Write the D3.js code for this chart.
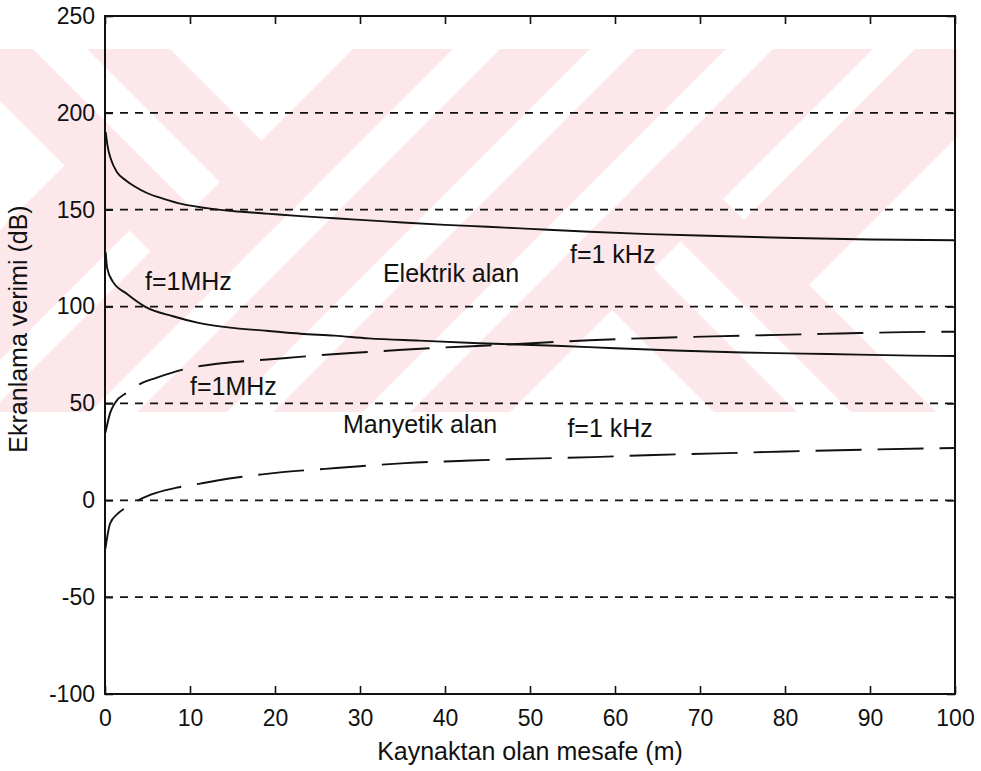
<!DOCTYPE html>
<html>
<head>
<meta charset="utf-8">
<script src="https://cdn.jsdelivr.net/npm/d3@7"></script>
<style>
  body { margin: 0; background: #fff; }
  text { font-family: "Liberation Sans", Arial, sans-serif; fill: #111; }
</style>
</head>
<body>
<svg id="chart" width="981" height="771"></svg>
<script>
// Axis ticks and reference levels
const xTicks = [0, 10, 20, 30, 40, 50, 60, 70, 80, 90, 100];
const yTicks = [-100, -50, 0, 50, 100, 150, 200, 250];
const gridLevels = [200, 150, 100, 50, 0, -50];

// Shielding effectiveness (dB) versus distance from the source (m)
const elektrik1kHz = [[0.08,190],[0.3,183],[0.7,176],[1.4,169.5],[2.5,165],[3.5,162],[5,158.5],[7,155.5],[9,153],[12,150.8],[15,149.3],[19,148],[23,146.7],[27,145.6],[31,144.5],[35,143.4],[40,142.2],[45,141.2],[50,140.1],[57,138.6],[64,137.4],[72,136.4],[81,135.4],[90,134.6],[100,134.2]];
const elektrik1MHz = [[0.08,128],[0.25,120],[0.9,113],[2.6,106.5],[4.7,100],[8,95],[11,91.6],[15,89],[19,87.5],[23,86],[27,85],[31,83.6],[37,82.4],[44,81.1],[53,79.8],[60,78.5],[67,77.3],[75,76.3],[85,75.5],[95,74.7],[100,74.5]];
const manyetik1MHz = [[0.05,35],[0.6,45],[1.2,50.4],[2.6,55.6],[4.1,60],[6.1,63.3],[9.6,67.9],[13.2,70.5],[17,72],[21,73.3],[25,74.8],[29,76],[35,77.7],[39,78.7],[45,79.9],[57,82.6],[64.5,83.8],[71.5,84.6],[79.4,85.4],[86.5,86.1],[94,86.8],[100,87]];
const manyetik1kHz = [[0.05,-25],[0.6,-12],[1.5,-6.9],[2.6,-3.4],[3.9,0],[6,3.8],[8.5,6.6],[11.2,8.6],[13.2,10.2],[18.5,13.4],[20.6,14.4],[25.9,16.2],[30,17.6],[35.3,19.2],[43,20.5],[50,21.5],[57.4,22.3],[64.6,23.4],[72,24.2],[80,25.2],[90,26.2],[100,27]];

// In-plot annotations (data coordinates)
const annotations = [
  { text: "f=1MHz", x: 4.7, y: 108.6 },
  { text: "Elektrik alan", x: 32.7, y: 112.7 },
  { text: "f=1 kHz", x: 54.7, y: 122.5 },
  { text: "f=1MHz", x: 10, y: 54.4 },
  { text: "Manyetik alan", x: 28, y: 34.7 },
  { text: "f=1 kHz", x: 54.4, y: 32.7 }
];

const svg = d3.select("#chart");
const plotLeft = 105, plotRight = 955, plotTop = 16, plotBottom = 694;

const x = d3.scaleLinear().domain([0, 100]).range([plotLeft, plotRight]);
const y = d3.scaleLinear().domain([-100, 250]).range([plotBottom, plotTop]);

// Faint background stamp: diagonal bands in pixel space (c = x - y, s = x + y)
const stampBands = [
  { c: [-101, -16],   s: [-3000, 502] },
  { c: [38, 121],     s: [-3000, 502] },
  { c: [-3000, 3000], s: [402, 502] },
  { c: [-3000, 3000], s: [549, 639] },
  { c: [-3000, 3000], s: [685, 775] },
  { c: [-3000, 3000], s: [822, 922] },
  { c: [302, 385],    s: [822, 3000] },
  { c: [439, 524],    s: [822, 3000] },
  { c: [-3000, -101], s: [230, 360] },
  { c: [524, 3000],   s: [964, 1094] }
];
const defs = svg.append("defs");
defs.append("clipPath").attr("id", "stampClip")
  .append("rect").attr("x", 0).attr("y", 49).attr("width", 957).attr("height", 363);
const corner = (c, s) => [(s + c) / 2, (s - c) / 2];
svg.append("g").attr("clip-path", "url(#stampClip)")
  .selectAll("polygon").data(stampBands).join("polygon")
  .attr("points", b => [corner(b.c[0], b.s[0]), corner(b.c[1], b.s[0]), corner(b.c[1], b.s[1]), corner(b.c[0], b.s[1])]
    .map(p => p.join(",")).join(" "))
  .attr("fill", "#fce8eb");

// Dashed horizontal grid
svg.append("g").selectAll("line").data(gridLevels).join("line")
  .attr("x1", plotLeft).attr("x2", plotRight)
  .attr("y1", d => y(d)).attr("y2", d => y(d))
  .attr("stroke", "#111").attr("stroke-width", 1.7)
  .attr("stroke-dasharray", "8,7");

// Axes with inward ticks on all four sides
const plain = d => String(d);
const styleAxis = g => {
  g.select(".domain").remove();
  g.selectAll(".tick line").attr("stroke", "#111").attr("stroke-width", 1.6);
  g.selectAll(".tick text").style("font-size", "23px").attr("fill", "#111");
};
svg.append("g").attr("transform", `translate(0,${plotBottom})`)
  .call(d3.axisBottom(x).tickValues(xTicks).tickSizeInner(-8).tickSizeOuter(0).tickPadding(16).tickFormat(plain))
  .call(styleAxis);
svg.append("g").attr("transform", `translate(0,${plotTop})`)
  .call(d3.axisTop(x).tickValues(xTicks).tickSizeInner(-8).tickSizeOuter(0).tickFormat(""))
  .call(styleAxis);
svg.append("g").attr("transform", `translate(${plotLeft},0)`)
  .call(d3.axisLeft(y).tickValues(yTicks).tickSizeInner(-8).tickSizeOuter(0).tickPadding(10).tickFormat(plain))
  .call(styleAxis);
svg.append("g").attr("transform", `translate(${plotRight},0)`)
  .call(d3.axisRight(y).tickValues(yTicks).tickSizeInner(-8).tickSizeOuter(0).tickFormat(""))
  .call(styleAxis);

// Plot frame
svg.append("rect")
  .attr("x", plotLeft).attr("y", plotTop).attr("width", plotRight - plotLeft).attr("height", plotBottom - plotTop)
  .attr("fill", "none").attr("stroke", "#111").attr("stroke-width", 2);

// Curves
const line = d3.line().x(d => x(d[0])).y(d => y(d[1])).curve(d3.curveMonotoneX);
const series = [
  { data: elektrik1kHz, dash: null },
  { data: elektrik1MHz, dash: null },
  { data: manyetik1MHz, dash: "46,16" },
  { data: manyetik1kHz, dash: "46,16" }
];
svg.append("g").selectAll("path").data(series).join("path")
  .attr("d", d => line(d.data))
  .attr("fill", "none").attr("stroke", "#111").attr("stroke-width", 1.9)
  .attr("stroke-dasharray", d => d.dash);

// Annotations
svg.append("g").selectAll("text").data(annotations).join("text")
  .attr("x", d => x(d.x)).attr("y", d => y(d.y))
  .style("font-size", "25px")
  .text(d => d.text);

// Axis titles
svg.append("text")
  .attr("x", (plotLeft + plotRight) / 2).attr("y", 760)
  .attr("text-anchor", "middle").style("font-size", "25px")
  .text("Kaynaktan olan mesafe (m)");
svg.append("text")
  .attr("transform", "translate(27,329) rotate(-90)")
  .attr("text-anchor", "middle").style("font-size", "25px")
  .text("Ekranlama verimi (dB)");
</script>
</body>
</html>
